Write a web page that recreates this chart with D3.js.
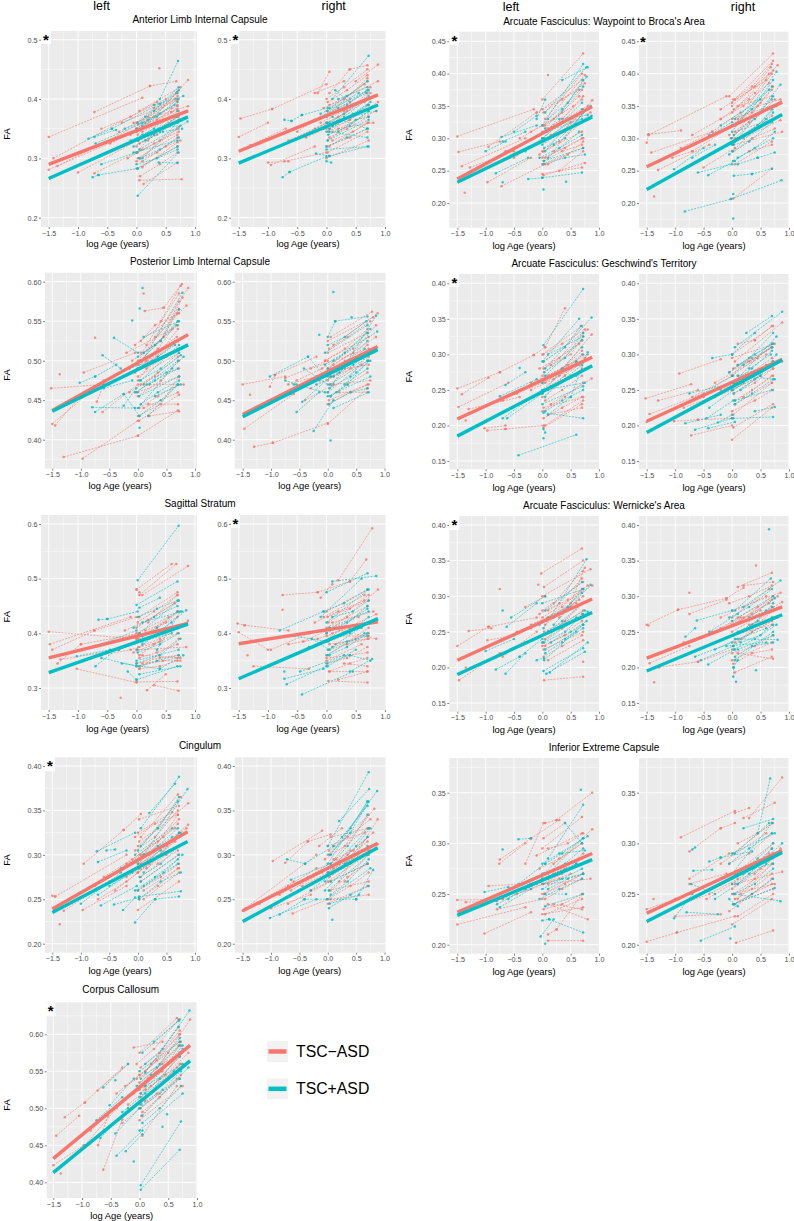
<!DOCTYPE html>
<html><head><meta charset="utf-8">
<script src="https://cdn.jsdelivr.net/npm/d3@7"></script>
<style>html,body{margin:0;padding:0;background:#fff}svg{display:block}text{font-family:"Liberation Sans",Arial,sans-serif}</style>
</head><body><div id="c"></div>
<script>
const RED="#F8766D",TEAL="#00BFC4";
const legendLabels=["TSC−ASD","TSC+ASD"];
const xTicks=[-1.5,-1,-0.5,0,0.5,1];
const ticksAlic=[.2,.3,.4,.5], ticksPlic=[.4,.45,.5,.55,.6], ticksSs=[.3,.4,.5,.6], ticksCing=[.2,.25,.3,.35,.4];
const ticksCc=[.4,.45,.5,.55,.6], ticksBroca=[.2,.25,.3,.35,.4,.45], ticksGesch=[.15,.2,.25,.3,.35,.4], ticksWern=[.15,.2,.25,.3,.35,.4], ticksIec=[.2,.25,.3,.35];
// Each record: x,y pairs of one subject's visits (log age, FA).
const alicLNeg=[[-1.5,.336,.1,.402],[-.72,.378,.23,.422],[.23,.422,.68,.43],[-1.42,.3,.35,.395],[-1.5,.281,0,.345],[-1.35,.287,.6,.385],[-1,.276,.02,.33],[-.72,.275,.1,.315],[.05,.263,.77,.265],[0,.31,.7,.388],[.02,.34,.88,.432],[.03,.357,.7,.412],[.05,.3,.7,.35],[.1,.285,.7,.327],[0,.32,.7,.37],[.15,.36,.7,.405],[.2,.33,.72,.38],[0,.283,.7,.32],[.12,.257,.7,.293],[-.05,.36,.88,.388],[.05,.38,.75,.42],[-.25,.36,.7,.397],[.1,.345,.87,.38],[.02,.3,.7,.34],[.39,.452],
[-.02,.345,.35,.365,.7,.39],[.03,.33,.4,.35,.72,.37],[0,.35,.3,.37,.68,.41],[.05,.325,.35,.34,.7,.362],[-.1,.34,.3,.36,.7,.383],[.02,.31,.4,.33,.72,.352],[0,.295,.35,.31,.7,.335],[.06,.27,.4,.29,.7,.31],[-.3,.345,.2,.37,.66,.4],[-.15,.3,.3,.325,.72,.345],[-.45,.325,0,.35,.6,.378],[-.6,.35,-.1,.37,.5,.4],[0,.36,.3,.385,.72,.4],[.1,.295,.5,.32,.75,.33]];
const alicLPos=[[-.82,.333,-.42,.35],[-.72,.336,-.35,.348],[-.7,.325,.1,.36],[-.75,.268,-.65,.272],[-.65,.272,.02,.283],[-.6,.29,0,.31],[.02,.237,.72,.31],[.4,.4,.71,.464],[-.42,.35,.4,.392],[0,.35,.7,.41],[.15,.37,.72,.415],[.02,.283,.7,.32],[.38,.293,.7,.292],[.1,.3,.7,.36],[.2,.34,.78,.375],[0,.33,.7,.38],[.05,.315,.87,.362],[.3,.39,.8,.405],[.1,.34,.7,.36],[-.05,.31,.7,.33],
[0,.345,.35,.37,.7,.4],[.03,.33,.4,.345,.72,.365],[-.05,.32,.3,.34,.68,.37],[.05,.3,.4,.315,.72,.335],[.1,.355,.4,.375,.7,.395],[0,.29,.35,.3,.7,.315],[-.2,.35,.2,.365,.65,.39],[.02,.36,.3,.38,.72,.42],[.15,.33,.45,.345,.78,.35],[-.1,.33,.3,.35,.75,.355]];
const alicRNeg=[[-1.5,.336,-1,.36],[-1.47,.367,-.93,.383],[-.93,.383,0,.425],[-.15,.41,.05,.446],[-1.3,.322,-.7,.35],[-1,.293,-.65,.295],[-.95,.289,-.2,.32],[-.72,.295,0,.31],[.05,.41,.4,.45],[.4,.45,.7,.457],[.5,.43,.88,.458],[0,.37,.7,.435],[.05,.39,.88,.43],[0,.35,.75,.41],[.02,.33,.72,.38],[.05,.32,.7,.36],[.02,.31,.7,.345],[.1,.345,.85,.38],[0,.3,.72,.33],[.2,.35,.8,.36],[-.65,.33,.05,.36],[-.2,.41,.3,.43],[-.4,.355,.5,.39],[0,.38,.65,.425],
[-.05,.385,.3,.4,.7,.43],[0,.355,.35,.38,.7,.41],[.03,.345,.4,.365,.72,.39],[.02,.395,.35,.415,.7,.44],[-.1,.36,.3,.38,.68,.4],[.05,.335,.35,.35,.72,.37],[0,.32,.4,.335,.7,.35],[.05,.375,.4,.395,.75,.42],[-.2,.35,.2,.37,.65,.395],[-.5,.345,-.1,.37,.4,.4],[.1,.33,.45,.345,.72,.36],[0,.4,.3,.42,.7,.45],[-.35,.335,.1,.355,.6,.38],[.05,.35,.4,.365,.88,.395]];
const alicRPos=[[-.75,.268,-.63,.277],[-.63,.277,0,.303],[0,.295,.08,.293],[0,.315,.72,.32],[-.18,.308,.05,.304],[.05,.304,.7,.32],[-.72,.365,-.6,.363],[-.6,.363,-.42,.373],[-.42,.373,.02,.385],[-.6,.33,0,.36],[.1,.4,.72,.473],[.15,.415,.45,.39],[.02,.38,.72,.415],[.05,.35,.72,.39],[0,.36,.85,.38],[.02,.33,.72,.365],[.05,.345,.7,.335],[.1,.37,.7,.35],[-.1,.375,.55,.41],[.2,.4,.7,.42],[0,.345,.7,.39],
[0,.37,.35,.39,.7,.415],[.02,.36,.3,.375,.72,.405],[-.05,.35,.3,.37,.7,.4],[.05,.385,.35,.405,.7,.43],[.03,.34,.4,.355,.72,.38],[0,.32,.35,.335,.7,.35],[-.2,.365,.2,.385,.68,.41],[.1,.355,.45,.375,.75,.395],[.2,.345,.5,.365,.72,.37]];
const plicLNeg=[[-1.52,.465,-.6,.47],[-1.5,.42,-.6,.475],[-1.45,.418,-1,.456],[-1.3,.378,0,.405],[-.97,.376,0,.424],[0,.405,.7,.437],[.02,.424,.72,.457],[-1.37,.483],[-.75,.529],[-.95,.485,-.05,.51],[.12,.563,.45,.567],[.1,.585],[.45,.567,.77,.597],[.4,.55,.75,.595],[.3,.53,.88,.592],[.15,.52,.72,.585],[0,.5,.72,.565],[.05,.51,.85,.57],[-.05,.52,.7,.56],[0,.475,.7,.54],[-.72,.448,-.6,.47],[-.62,.435,0,.47],[.1,.44,.7,.46],[.18,.445,.7,.445],[.15,.47,.8,.47],[0,.46,.72,.48],[.02,.49,.7,.525],[0,.48,.72,.51],[-.2,.51,.6,.54],[.2,.43,.72,.436],
[0,.495,.35,.515,.7,.55],[.03,.5,.4,.525,.72,.575],[-.05,.485,.3,.51,.68,.53],[.05,.47,.35,.485,.7,.505],[0,.455,.4,.475,.72,.5],[-.1,.5,.3,.52,.7,.545],[.02,.44,.35,.455,.7,.47],[.1,.51,.45,.53,.78,.58],[-.3,.485,.15,.5,.65,.525],[-.5,.47,0,.49,.55,.52],[.05,.525,.3,.545,.72,.56],[0,.43,.4,.445,.72,.48],[.15,.49,.5,.505,.7,.515],[-.15,.46,.3,.48,.72,.49]];
const plicLPos=[[-.62,.507,-.3,.49],[.08,.592],[-.1,.551],[.03,.566],[-.42,.529,0,.51],[-1.02,.472,-.75,.48],[-.75,.48,-.38,.495],[-.8,.441,-.05,.44],[-.75,.435,-.25,.458],[-.25,.458,.03,.43],[.03,.415],[.18,.43,.7,.47],[-.25,.443,-.03,.465],[-.02,.46,.7,.5],[0,.49,.78,.586],[.05,.5,.7,.55],[.1,.47,.75,.507],[.02,.455,.72,.48],[.1,.53,.72,.55],[0,.44,.6,.49],[.3,.455,.75,.47],[.05,.475,.72,.52],[-.6,.465,-.1,.475],
[0,.49,.35,.505,.7,.525],[.03,.475,.4,.49,.72,.51],[-.05,.46,.3,.475,.7,.49],[.05,.445,.35,.46,.72,.475],[.1,.51,.4,.525,.72,.565],[0,.505,.3,.52,.68,.545],[-.15,.49,.25,.5,.65,.52],[.2,.47,.5,.485,.8,.505],[.02,.43,.4,.45,.7,.47]];
const plicRNeg=[[-1.5,.47,-.75,.48],[-1.47,.414,-.6,.458],[-1.37,.457],[-1.3,.391,-.97,.396],[-.97,.396,0,.421],[-1.02,.467,-.93,.482],[-.93,.482,-.2,.505],[-.75,.478,0,.5],[0,.42,.7,.465],[.02,.45,.7,.47],[-.65,.458,.05,.49],[-.3,.49,.72,.515],[0,.525,.8,.555],[.05,.53,.78,.562],[.1,.52,.88,.56],[0,.51,.7,.535],[-.05,.5,.72,.53],[.05,.48,.72,.51],[0,.46,.7,.5],[.1,.47,.75,.475],[0,.49,.85,.53],[.2,.46,.7,.46],[-.4,.45,.1,.47],
[0,.485,.35,.5,.7,.52],[.03,.47,.4,.49,.72,.505],[-.05,.5,.3,.515,.7,.54],[.05,.455,.35,.47,.7,.485],[0,.445,.4,.46,.72,.47],[-.15,.475,.25,.49,.68,.51],[.02,.515,.35,.53,.75,.55],[-.3,.465,.1,.48,.6,.495],[-.55,.475,-.1,.49,.45,.515],[.1,.495,.45,.51,.85,.545],[0,.475,.3,.49,.72,.495],[-.7,.47,-.2,.48,.3,.5]];
const plicRPos=[[-1.02,.48,-.35,.505],[-.35,.505,-.05,.48],[-.25,.411,.1,.45],[.05,.399],[.1,.587],[.42,.555],[-.15,.533],[0,.53,.13,.55],[.13,.55,.7,.556],[-.55,.435,-.15,.46],[-.45,.448,.05,.48],[-.75,.475,-.55,.47],[-.6,.47,-.05,.46],[0,.455,.75,.48],[0,.46,.85,.557],[0,.49,.75,.54],[.05,.47,.7,.5],[.1,.44,.72,.46],[-.05,.51,.7,.545],[.1,.5,.87,.537],[-.42,.49,0,.47],[.3,.47,.7,.49],
[0,.48,.35,.5,.7,.525],[.03,.465,.4,.48,.72,.51],[-.05,.495,.3,.51,.7,.535],[.05,.455,.35,.47,.72,.5],[.02,.445,.4,.46,.7,.465],[-.2,.47,.2,.485,.65,.515],[.1,.48,.45,.495,.78,.51],[0,.52,.3,.53,.68,.55],[.15,.46,.5,.485,.75,.5]];
const ssLNeg=[[-1.5,.403,0,.39],[-1.48,.38,-.1,.43],[-1.44,.37,-.72,.405],[-.72,.405,0,.43],[-1.35,.345,-.95,.38],[-1.02,.335,0,.31],[-.95,.38,.05,.4],[-1.3,.352,-.3,.37],[0,.311,.7,.312],[.18,.296,.5,.325],[.3,.305,.72,.295],[-.27,.282],[0,.48,.05,.475],[0,.48,.6,.527],[.05,.47,.68,.527],[.1,.47,.88,.523],[.05,.43,.7,.475],[0,.41,.72,.46],[.03,.39,.7,.44],[.02,.37,.85,.375],[.1,.36,.75,.355],[0,.34,.7,.355],[.05,.36,.88,.423],[.2,.42,.7,.47],[.05,.335,.72,.39],
[0,.39,.35,.41,.7,.43],[.03,.375,.4,.39,.72,.415],[-.05,.365,.3,.38,.7,.4],[.05,.355,.35,.365,.7,.38],[0,.345,.4,.355,.72,.36],[-.2,.405,.2,.425,.65,.455],[.02,.42,.3,.44,.7,.47],[.1,.345,.45,.35,.75,.35],[-.4,.385,0,.4,.55,.43],[.05,.335,.4,.34,.7,.35],[.15,.405,.5,.42,.72,.44],[-.6,.36,-.1,.37,.4,.385]];
const ssLPos=[[.02,.497,.72,.597],[0,.452,.7,.495],[.05,.447,.4,.465],[-.65,.425,-.5,.426],[-.5,.426,.02,.44],[-.75,.375,0,.405],[-.7,.34,-.35,.37],[-1.02,.358,-.45,.37],[-.6,.355,0,.34],[-.15,.33,0,.315],[0,.315,.7,.34],[.05,.325,.75,.34],[-.25,.345,.4,.335],[.4,.335,.8,.36],[0,.37,.6,.42],[.05,.4,.72,.46],[.1,.38,.85,.442],[0,.35,.72,.37],[.35,.37,.75,.44],[.1,.42,.78,.44],
[0,.385,.35,.41,.7,.44],[.02,.365,.4,.38,.72,.4],[-.05,.41,.3,.43,.7,.45],[.05,.34,.35,.35,.72,.36],[.03,.43,.35,.445,.7,.46],[.1,.395,.45,.405,.72,.415],[0,.345,.4,.36,.75,.39],[-.3,.37,.1,.385,.6,.4]];
const ssRNeg=[[-1.52,.418,-1.4,.415],[-1.4,.415,-.65,.405],[-1.5,.402,-1,.37],[-1.35,.36],[-1.25,.34,-.3,.335],[-.75,.47,-.15,.475],[-.15,.475,.4,.495],[.4,.495,.68,.535],[-.75,.443],[.2,.497,.78,.592],[-.1,.465,.1,.49],[0,.44,.7,.48],[.02,.43,.72,.46],[0,.4,.88,.48],[.05,.38,.7,.39],[0,.35,.6,.38],[.05,.33,.7,.33],[.03,.313,.7,.31],[.2,.315,.7,.33],[-.95,.37,-.3,.4],[.02,.36,.72,.41],[.1,.42,.8,.44],[.05,.41,.85,.39],[.3,.345,.7,.34],[-.05,.43,.65,.47],[0,.395,.72,.395],
[0,.41,.35,.43,.7,.45],[.03,.42,.4,.445,.72,.47],[-.05,.385,.3,.4,.7,.42],[.05,.37,.35,.38,.72,.39],[0,.355,.4,.36,.7,.365],[-.2,.42,.2,.44,.65,.46],[.02,.345,.35,.355,.7,.375],[.1,.4,.45,.415,.85,.435],[-.4,.385,0,.405,.55,.43],[.05,.33,.4,.345,.7,.355],[.15,.38,.5,.39,.72,.4],[-.65,.38,-.15,.39,.4,.41]];
const ssRPos=[[-.42,.288,.45,.33],[-.72,.317,-.05,.335],[-.68,.307,0,.34],[-.72,.33],[-.45,.33,.3,.36],[-.8,.405,-.05,.44],[0,.475,.7,.51],[.1,.495,.85,.505],[0,.42,.72,.48],[-.25,.39,.05,.37],[0,.36,.65,.4],[.05,.39,.7,.45],[-.1,.43,.6,.5],[-.55,.395,0,.385],[.4,.33,.78,.353],[.05,.41,.72,.44],[.02,.34,.5,.37],[.1,.375,.72,.42],
[0,.4,.35,.42,.7,.445],[.03,.385,.4,.4,.72,.43],[-.05,.44,.3,.455,.7,.48],[.05,.36,.35,.375,.7,.4],[0,.345,.4,.36,.75,.35],[.1,.43,.45,.44,.72,.46],[-.3,.375,.1,.39,.6,.41],[.02,.37,.35,.385,.7,.395]];
const cingLNeg=[[-1.5,.254,-1.45,.253],[-1.45,.253,-.2,.3],[-1.3,.237,-.5,.27],[-1.37,.222],[-.95,.29,-.25,.328],[-.25,.328,.05,.346],[-.97,.238,-.2,.265],[-.75,.265,.05,.3],[.05,.32,.7,.368],[0,.31,.88,.358],[.03,.3,.72,.34],[0,.28,.72,.32],[.05,.27,.7,.3],[-.2,.29,.65,.33],[.02,.34,.72,.355],[0,.238,.72,.27],[.1,.26,.72,.285],[.05,.29,.88,.334],[-.3,.275,.5,.31],[.2,.3,.7,.345],[0,.325,.6,.348],[.1,.25,.72,.28],[0,.29,.72,.31],
[0,.295,.35,.315,.7,.335],[.03,.285,.4,.3,.72,.325],[-.05,.305,.3,.32,.7,.35],[.05,.275,.35,.29,.7,.305],[0,.26,.4,.275,.72,.29],[-.2,.275,.2,.29,.65,.315],[.02,.315,.35,.33,.75,.365],[-.4,.26,0,.28,.55,.305],[-.6,.275,-.1,.295,.45,.32],[.1,.3,.45,.31,.85,.33],[.02,.25,.35,.265,.7,.285],[-.7,.25,-.2,.27,.3,.295],[.15,.285,.5,.3,.72,.31],[-.05,.32,.3,.335,.7,.345]];
const cingLPos=[[-.72,.304,-.05,.325],[-.7,.292,-.2,.305],[-.55,.305,-.4,.306],[-.65,.243,-.02,.265],[-1,.245,-.3,.28],[-.42,.244,.02,.252],[-.26,.238,-.05,.252],[-.05,.224,.3,.25],[.3,.25,.72,.253],[.02,.253,.75,.259],[.05,.33,.72,.388],[.2,.347,.65,.38],[.1,.3,.87,.374],[0,.305,.7,.36],[.02,.285,.75,.325],[.05,.27,.72,.3],[0,.26,.7,.29],[.1,.28,.72,.325],[-.7,.255,0,.285],[-.05,.3,.6,.33],
[0,.29,.35,.31,.7,.33],[.03,.275,.4,.29,.72,.31],[-.05,.26,.3,.275,.7,.295],[.05,.31,.35,.33,.72,.365],[.02,.25,.4,.27,.75,.28],[-.5,.265,-.1,.28,.4,.305],[.1,.265,.45,.28,.78,.3],[-.3,.285,.1,.3,.6,.32]];
const cingRNeg=[[-1.5,.237,-.6,.27],[-1.45,.24,-.2,.3],[-.97,.293,-.1,.327],[-.75,.291,-.35,.315],[-.35,.315,.05,.323],[-.62,.234,0,.25],[0,.245,.7,.265],[.02,.26,.72,.27],[.05,.29,.82,.352],[0,.3,.72,.345],[.05,.32,.72,.33],[0,.27,.7,.3],[-.3,.26,.7,.29],[.2,.27,.88,.34],[-.7,.245,.05,.27],[.05,.25,.72,.255],[0,.31,.65,.325],[.1,.285,.75,.305],[-.15,.31,.25,.33],[.02,.28,.7,.315],[-1,.24,-.3,.255],[.3,.27,.88,.312],
[0,.285,.35,.3,.7,.32],[.03,.275,.4,.29,.72,.305],[-.05,.295,.3,.31,.7,.33],[.05,.26,.35,.275,.7,.29],[0,.25,.4,.265,.72,.28],[-.2,.27,.2,.285,.65,.305],[.02,.305,.35,.32,.75,.34],[-.45,.265,0,.28,.5,.3],[-.65,.26,-.1,.28,.4,.305],[.1,.295,.45,.305,.8,.325],[-.85,.255,-.35,.275,.15,.295],[-1.2,.245,-.7,.265,-.2,.285]];
const cingRPos=[[.08,.227],[-1.02,.229,-.2,.25],[-.85,.233,-.4,.25],[-.42,.25,.5,.25],[-.65,.272,.05,.29],[-.72,.295,-.4,.29],[-.4,.29,.1,.31],[0,.31,.72,.393],[.2,.338,.73,.374],[.05,.3,.87,.372],[0,.29,.7,.36],[-.02,.25,.75,.285],[.02,.26,.72,.3],[0,.28,.72,.33],[.03,.245,.55,.255],[.5,.25,.8,.283],[.05,.27,.7,.29],[-.05,.26,.7,.31],[.25,.32,.7,.355],
[0,.285,.35,.31,.7,.345],[.03,.3,.4,.325,.72,.36],[-.05,.27,.3,.29,.7,.32],[.05,.255,.35,.27,.72,.295],[.1,.31,.4,.33,.7,.36],[-.3,.26,.1,.28,.6,.305],[.2,.29,.5,.31,.75,.33],[.02,.24,.4,.255,.72,.265]];
const ccNeg=[[-1.5,.423,-.97,.45],[-1.45,.463,-1.05,.49],[-1.37,.412],[-1.3,.488,-.95,.508],[-.95,.508,-.3,.555],[-.73,.524,-.2,.56],[-.72,.45,-.55,.49],[-.63,.417,-.3,.485],[-.1,.582,.4,.59],[0,.575,.65,.622],[.1,.55,.7,.605],[0,.53,.68,.585],[.02,.52,.88,.62],[0,.505,.7,.56],[.03,.49,.65,.54],[-.3,.48,.3,.52],[.05,.463,.65,.53],[0,.484,.75,.53],[.1,.51,.7,.575],[-.25,.53,.72,.575],[0,.545,.7,.59],[-.95,.45,-.4,.5],[-.45,.5,.1,.53],[.2,.56,.7,.6],[.03,.515,.7,.57],
[0,.525,.35,.55,.7,.575],[.03,.51,.4,.535,.72,.56],[-.05,.54,.3,.565,.7,.6],[.05,.495,.35,.515,.7,.54],[0,.535,.4,.56,.72,.585],[-.2,.505,.2,.53,.65,.555],[.02,.555,.35,.575,.68,.61],[-.4,.52,0,.545,.5,.575],[-.6,.49,-.1,.52,.4,.55],[.1,.525,.45,.545,.85,.575],[.02,.5,.35,.52,.72,.545],[-.85,.47,-.35,.505,.15,.54],[.15,.54,.5,.56,.72,.59],[-.05,.56,.25,.58,.68,.62]];
const ccPos=[[.02,.39,.7,.444],[.02,.396,.72,.482],[-.1,.428],[.4,.475],[.48,.492],[-.42,.466,0,.5],[-.4,.436,.05,.47],[-.24,.442,.05,.465],[-.68,.46,-.2,.5],[-.75,.484,-.3,.515],[-.63,.528,-.2,.56],[-.52,.504,-.1,.54],[-.42,.538],[.05,.575,.68,.618],[.1,.548,.87,.632],[0,.47,.75,.52],[.02,.52,.75,.58],[0,.5,.7,.54],[.05,.49,.85,.555],[.1,.53,.75,.56],[0,.55,.7,.59],[.25,.59,.7,.62],
[0,.515,.35,.54,.7,.57],[.03,.505,.4,.525,.72,.55],[-.05,.53,.3,.555,.7,.585],[.05,.48,.35,.5,.72,.53],[.1,.56,.4,.58,.68,.61],[-.3,.495,.1,.52,.6,.55],[.2,.545,.5,.56,.75,.585],[.02,.54,.35,.56,.7,.595]];
const brocaLNeg=[[-1.5,.303,-.15,.345],[-1.48,.279,-.75,.295],[-1.42,.257,-.3,.3],[-1.37,.216],[-1.28,.255,-.5,.28],[-.97,.232,-.2,.27],[-.72,.226,.05,.26],[.1,.398],[-.95,.287,-.1,.34],[0,.245,.7,.255],[.02,.243,.75,.262],[0,.36,.72,.431],[.05,.33,.7,.4],[.02,.32,.75,.398],[0,.28,.7,.34],[.03,.3,.72,.365],[.05,.27,.7,.3],[.2,.28,.88,.359],[-.1,.34,.65,.375],[0,.345,.7,.39],[.1,.315,.8,.35],[.02,.28,.7,.31],[.3,.25,.72,.28],[-.5,.27,0,.3],[0,.26,.72,.285],
[0,.31,.35,.33,.7,.36],[.03,.295,.4,.31,.72,.345],[-.05,.275,.3,.295,.7,.325],[.05,.32,.35,.34,.7,.375],[0,.27,.4,.285,.72,.3],[-.2,.31,.2,.33,.65,.365],[.02,.34,.35,.36,.75,.385],[-.4,.3,0,.32,.55,.35],[.1,.26,.45,.275,.72,.295],[.15,.305,.5,.325,.85,.34],[.02,.265,.35,.28,.7,.29],[-.65,.28,-.15,.3,.35,.33]];
const brocaLPos=[[-.72,.302,-.1,.32],[-.7,.295,-.3,.31],[-.5,.31,-.1,.335],[-1,.28,-.65,.295],[-.82,.246,-.25,.27],[-.7,.232],[-.25,.237,0,.239],[.02,.221],[.42,.233],[0,.239,.7,.247],[0,.32,.72,.415],[.05,.34,.78,.41],[-.1,.33,.05,.36],[.02,.3,.72,.39],[.05,.28,.7,.345],[.03,.265,.72,.285],[.3,.33,.8,.336],[.1,.27,.65,.31],[.05,.31,.87,.335],[0,.29,.7,.33],[.2,.29,.85,.35],[.35,.39,.8,.41],
[0,.3,.35,.325,.7,.355],[.03,.285,.4,.3,.72,.34],[-.05,.27,.3,.285,.7,.305],[.05,.315,.35,.345,.72,.38],[.02,.26,.4,.27,.75,.275],[-.3,.28,.1,.3,.6,.335],[.1,.33,.45,.355,.78,.395]];
const brocaRNeg=[[-1.5,.293,-1.47,.306],[-1.47,.306,-.9,.312],[-1.47,.305,-.1,.365],[-1.42,.278,-.35,.31],[-1.37,.21],[-1.3,.251,-.4,.29],[-1.05,.27,-.7,.28],[-.7,.28,.02,.32],[-.05,.365,.72,.431],[.05,.36,.72,.42],[0,.34,.8,.413],[.02,.32,.7,.4],[.05,.3,.75,.36],[0,.33,.85,.355],[.05,.26,.7,.295],[.02,.207,.7,.253],[0,.3,.72,.38],[.1,.35,.7,.365],[.03,.29,.88,.31],[.2,.3,.85,.328],[-.2,.345,.6,.39],[0,.35,.65,.4],[.3,.28,.7,.29],[.05,.31,.72,.33],[-.5,.255,.05,.285],
[0,.32,.35,.34,.7,.375],[.03,.345,.4,.37,.72,.405],[-.05,.305,.3,.325,.7,.35],[.05,.295,.35,.31,.7,.335],[0,.355,.4,.38,.68,.41],[-.2,.33,.2,.35,.65,.385],[.02,.28,.35,.3,.75,.315],[-.45,.3,0,.32,.5,.355],[-.7,.305,-.2,.33,.3,.36],[.1,.33,.45,.35,.85,.36],[-.9,.285,-.35,.31,.15,.34],[.02,.36,.35,.38,.7,.415]];
const brocaRPos=[[-.83,.187,-.02,.206],[-.02,.206,.87,.235],[.02,.176],[.02,.214],[.03,.242,.35,.245],[.35,.245,.7,.253],[.75,.278,.45,.27],[-.6,.247,0,.26],[-.42,.243,.05,.265],[-1.02,.252,-.5,.285],[-.4,.305,0,.325],[-.7,.27,-.3,.29],[0,.28,.72,.34],[.02,.29,.85,.383],[0,.31,.78,.403],[.05,.33,.7,.38],[.1,.27,.72,.3],[-.02,.3,.7,.36],[.1,.26,.45,.27],[.03,.32,.65,.375],[-.2,.32,.5,.36],
[0,.29,.35,.31,.7,.345],[.03,.305,.4,.33,.72,.365],[-.05,.275,.3,.295,.7,.325],[.05,.32,.35,.345,.72,.39],[.02,.265,.4,.285,.75,.31],[-.3,.28,.1,.3,.6,.33],[.1,.3,.45,.32,.78,.35]];
const geschLNeg=[[-1.5,.252,-.75,.275],[-.75,.275,-.15,.299],[-1.48,.226,-.6,.26],[-1.42,.244,-.95,.267],[-1.3,.223,-.4,.24],[-1.02,.196,-.65,.2],[-.97,.193,-.65,.195],[-.65,.195,.02,.2],[.02,.197,.7,.23],[.05,.2,.72,.235],[.05,.31,.4,.365],[0,.3,.7,.34],[.02,.29,.8,.335],[0,.27,.72,.33],[.05,.25,.87,.328],[0,.24,.7,.28],[.02,.225,.72,.24],[-.15,.299,.05,.31],[.1,.215,.7,.225],[.05,.26,.7,.3],[.15,.23,.87,.266],[-.2,.26,.6,.29],[.02,.28,.65,.315],[-1.35,.207],[.3,.27,.75,.295],
[0,.265,.35,.28,.7,.305],[.03,.25,.4,.27,.72,.29],[-.05,.28,.3,.295,.7,.32],[.05,.235,.35,.25,.7,.27],[0,.22,.4,.24,.72,.26],[-.2,.25,.2,.265,.65,.285],[.02,.3,.35,.315,.75,.335],[-.45,.245,0,.26,.5,.28],[-.7,.235,-.2,.255,.3,.275],[.1,.27,.45,.285,.8,.3],[.02,.21,.35,.225,.7,.24],[.15,.285,.5,.3,.72,.325]];
const geschLPos=[[.02,.313,.72,.392],[0,.29,.65,.35],[.05,.28,.87,.352],[-.42,.158,.6,.187],[.02,.182],[.02,.195,.05,.19],[.02,.218,.72,.21],[-.65,.257,-.3,.275],[-.4,.281],[-.75,.241,-.1,.265],[-.62,.21,0,.245],[-1,.205,0,.245],[-.7,.21,0,.25],[-.15,.24,.72,.3],[.03,.25,.75,.26],[0,.23,.72,.255],[.05,.27,.7,.32],[.1,.3,.72,.325],[.05,.24,.6,.29],[.1,.215,.5,.24],[.5,.24,.8,.303],
[0,.26,.35,.28,.7,.31],[.03,.275,.4,.295,.72,.33],[-.05,.245,.3,.26,.7,.285],[.05,.22,.35,.235,.72,.25],[.02,.29,.4,.31,.68,.34],[-.3,.235,.1,.25,.6,.27],[.15,.255,.5,.27,.78,.28]];
const geschRNeg=[[-1.52,.238,-.72,.258],[-1.45,.216,-.5,.245],[-1.5,.205,-.5,.24],[-1.3,.235,-.6,.25],[-1.02,.206,-.6,.208],[-.93,.273,-.2,.293],[-.72,.186,0,.2],[-.6,.208,0,.21],[0,.18,.7,.225],[.02,.197,.72,.23],[.02,.215,.7,.26],[0,.3,.72,.34],[.05,.29,.88,.345],[.1,.315,.4,.32],[.4,.32,.7,.34],[0,.27,.7,.31],[.05,.26,.72,.29],[.02,.25,.72,.28],[.05,.23,.7,.26],[-.3,.26,.6,.3],[.2,.24,.72,.27],[0,.295,.75,.315],[.1,.27,.88,.29],[-.7,.24,.02,.27],
[0,.26,.35,.275,.7,.295],[.03,.245,.4,.26,.72,.28],[-.05,.275,.3,.29,.7,.31],[.05,.235,.35,.25,.7,.27],[0,.22,.4,.235,.72,.25],[-.2,.25,.2,.265,.65,.285],[-.45,.235,0,.25,.5,.27],[-.85,.225,-.35,.24,.15,.26],[.1,.285,.45,.295,.72,.315],[.02,.28,.35,.295,.7,.31]];
const geschRPos=[[0,.3,.4,.33],[.25,.33,.7,.354],[.05,.31,.88,.36],[0,.27,.72,.33],[.03,.26,.78,.325],[-.82,.203,-.2,.215],[-.65,.194,0,.21],[-.42,.196,.05,.205],[-.25,.204,0,.215],[-.45,.21,.02,.235],[-.75,.245,.02,.26],[-.6,.24,0,.27],[-.4,.225,.2,.26],[.02,.21,.72,.212],[.4,.22,.75,.226],[.05,.235,.7,.25],[0,.25,.72,.285],[.1,.27,.75,.265],[.2,.285,.7,.31],[-.35,.295,0,.3],[.3,.28,.68,.3],
[0,.26,.35,.28,.7,.305],[.03,.245,.4,.265,.72,.29],[-.05,.275,.3,.295,.7,.315],[.05,.23,.35,.245,.72,.265],[.1,.285,.4,.3,.72,.315],[-.3,.24,.1,.26,.6,.285],[.15,.25,.5,.27,.78,.3]];
const wernLNeg=[[-1.5,.23,-.95,.257],[-.95,.257,-.1,.27],[-1.3,.251,-.9,.255],[-1.47,.182,-.75,.22],[-1.35,.2],[-.75,.31],[-.97,.238,-.5,.245],[-.3,.285,.05,.3],[-.07,.316],[-.02,.332,.7,.367],[.03,.313,.72,.35],[.03,.182,.72,.187],[0,.3,.85,.338],[0,.28,.72,.32],[.05,.26,.72,.3],[0,.235,.7,.29],[.02,.225,.72,.25],[.1,.21,.72,.238],[0,.27,.88,.315],[.2,.29,.75,.34],[.05,.23,.7,.265],[.15,.25,.72,.28],[.72,.208],[-.7,.215,-.1,.25],[.3,.27,.7,.31],[-.2,.26,.6,.29],
[0,.265,.35,.285,.7,.31],[.03,.25,.4,.265,.72,.29],[-.05,.275,.3,.29,.7,.325],[.05,.24,.35,.255,.7,.275],[0,.23,.4,.245,.72,.26],[-.2,.255,.2,.27,.65,.295],[-.45,.25,0,.265,.5,.285],[.1,.28,.45,.295,.8,.315],[.02,.215,.35,.23,.7,.245],[.15,.27,.5,.29,.72,.335]];
const wernLPos=[[-.7,.28],[-.63,.257,-.1,.29],[-.55,.27,.05,.3],[-1,.223,-.5,.24],[-.82,.197,-.4,.215],[-.65,.191,-.3,.22],[-.4,.215,0,.24],[.02,.195,.72,.227],[.07,.191,.75,.222],[.13,.193,.8,.235],[-.1,.21,.03,.213],[.03,.21,.72,.26],[0,.235,.8,.278],[.02,.255,.78,.352],[.05,.28,.7,.32],[.1,.25,.75,.28],[0,.29,.72,.31],[.2,.26,.85,.316],[.4,.24,.72,.26],[.05,.225,.6,.25],
[0,.245,.35,.265,.7,.29],[.03,.235,.4,.25,.72,.275],[-.05,.26,.3,.275,.7,.305],[.05,.22,.35,.235,.72,.255],[.1,.27,.45,.285,.72,.31],[-.3,.235,.1,.25,.6,.27],[.15,.235,.5,.25,.78,.265]];
const wernRNeg=[[-1.5,.26,-.95,.281],[-.95,.281,-.1,.297],[-1.47,.259],[-1.45,.206,-.75,.23],[-1.37,.179],[-1.28,.2,-.6,.208],[-.75,.305],[-.75,.275,-.1,.295],[.42,.343],[-.1,.297,.2,.312],[.1,.313,.7,.333],[.2,.315,.72,.32],[0,.28,.85,.305],[.05,.26,.72,.3],[0,.25,.88,.292],[.02,.23,.72,.28],[0,.21,.7,.235],[.05,.193,.7,.215],[.1,.22,.72,.212],[.15,.24,.8,.27],[-.2,.27,.6,.3],[0,.27,.65,.31],[-.6,.208,0,.225],[.3,.26,.72,.27],[.02,.245,.7,.26],
[0,.26,.35,.275,.7,.295],[.03,.245,.4,.26,.72,.285],[-.05,.29,.3,.3,.7,.315],[.05,.235,.35,.25,.7,.265],[0,.22,.4,.23,.72,.245],[-.2,.255,.2,.27,.65,.29],[-.45,.245,0,.26,.5,.28],[-.85,.235,-.35,.25,.15,.27],[.1,.27,.45,.285,.8,.3],[.02,.205,.35,.22,.7,.225]];
const wernRPos=[[.65,.394],[.02,.187,.03,.2],[.07,.18],[.42,.196],[.02,.2,.1,.21],[.05,.21,.72,.25],[-.82,.243,-.65,.255],[-.62,.266,0,.28],[-.65,.215,0,.235],[-.55,.21,.02,.23],[-.42,.204,.05,.225],[-.1,.23,.6,.235],[.05,.28,.68,.325],[.2,.285,.85,.322],[0,.265,.72,.3],[.02,.23,.7,.27],[.05,.24,.8,.239],[.1,.225,.72,.245],[.3,.27,.75,.297],[.05,.26,.6,.28],[-.4,.25,.1,.275],
[0,.245,.35,.26,.7,.285],[.03,.225,.4,.24,.72,.26],[-.05,.27,.3,.285,.7,.31],[.05,.215,.35,.23,.72,.235],[.1,.25,.45,.265,.72,.29],[-.3,.225,.1,.24,.6,.255],[.15,.235,.5,.245,.78,.26]];
const iecLNeg=[[-1.5,.244,-.7,.245],[-1.5,.22,-.3,.237],[-1.35,.242,-.8,.243],[-1.02,.211,-.2,.232],[-.95,.258,-.35,.26],[-.75,.284,-.2,.305],[-.76,.28,-.3,.3],[-.2,.305,.3,.323],[-.3,.28,.02,.32],[.05,.32,.25,.323],[.25,.323,.88,.35],[0,.295,.7,.326],[.02,.305,.4,.32],[.1,.21,.25,.215],[.25,.215,.7,.25],[.1,.204,.72,.204],[0,.23,.72,.237],[.1,.24,.8,.225],[.05,.23,.7,.245],[.2,.24,.7,.235],[-.1,.288,.7,.31],[.02,.27,.88,.314],[0,.25,.72,.27],[.1,.26,.85,.265],[-.8,.235,0,.245],[.2,.28,.7,.3],
[0,.26,.35,.27,.7,.285],[.03,.25,.4,.26,.72,.27],[-.05,.275,.3,.285,.7,.3],[.05,.245,.35,.255,.7,.265],[0,.265,.4,.275,.72,.29],[-.2,.26,.2,.27,.65,.285],[-.45,.25,0,.26,.5,.27],[.1,.295,.45,.3,.72,.31],[.02,.235,.35,.24,.7,.25],[-.7,.245,-.2,.255,.3,.265]];
const iecLPos=[[-.42,.304,-.2,.305],[-.7,.294],[.68,.353],[.1,.285,.72,.338],[-1.02,.252,-.6,.257],[-.8,.24,-.1,.26],[-.75,.237,-.2,.255],[-.6,.245,0,.27],[-.42,.26,.05,.28],[.05,.201],[-.03,.208,.2,.225],[0,.224,.12,.225],[.12,.225,.72,.212],[.05,.238,.72,.25],[0,.28,.8,.307],[.02,.26,.72,.27],[.05,.25,.42,.25],[.3,.29,.75,.293],[.1,.27,.72,.305],[0,.265,.6,.28],[.4,.32,.7,.3],
[0,.255,.35,.265,.7,.275],[.03,.27,.4,.28,.72,.295],[-.05,.245,.3,.255,.7,.265],[.05,.28,.35,.29,.72,.305],[.1,.255,.45,.265,.72,.27],[-.3,.255,.1,.265,.6,.28]];
const iecRNeg=[[-1.5,.235,-1,.245],[-1.5,.203,-.97,.212],[-.97,.212,.05,.228],[-1.38,.245],[-1,.228,-.2,.23],[-.9,.306,.05,.332],[-.75,.292,-.2,.315],[-.75,.265,-.05,.29],[-.2,.315,.05,.32],[.05,.33,.3,.335],[.2,.325,.75,.34],[.3,.325,.88,.365],[.07,.202,.72,.214],[0,.22,.7,.245],[.1,.228,.72,.25],[0,.25,.75,.26],[.05,.26,.88,.272],[.02,.29,.7,.32],[-.2,.28,.6,.31],[.05,.27,.72,.3],[-.05,.233,.7,.265],[.1,.245,.7,.28],[-.75,.26,-.1,.27],[.15,.25,.85,.295],[.02,.24,.72,.255],
[0,.265,.35,.275,.7,.295],[.03,.25,.4,.265,.72,.28],[-.05,.28,.3,.29,.7,.31],[.05,.245,.35,.255,.7,.27],[0,.255,.4,.27,.72,.285],[-.2,.26,.2,.27,.65,.29],[-.45,.245,0,.26,.5,.275],[-.9,.24,-.4,.25,.1,.265],[.1,.3,.45,.31,.72,.32],[.02,.24,.35,.25,.7,.26]];
const iecRPos=[[-.55,.204,.05,.218],[-.03,.206],[-1.02,.226,-.7,.25],[-.8,.232,-.25,.23],[-.68,.273,-.35,.274],[-.72,.26,-.3,.25],[-.7,.294,-.65,.296],[-.4,.282,-.2,.286],[-.2,.286,.35,.292],[.2,.315,.72,.324],[.45,.31,.67,.364],[0,.27,.7,.32],[.02,.24,.75,.256],[.05,.25,.85,.243],[0,.29,.75,.31],[-.05,.245,.1,.238],[.02,.27,.72,.28],[.1,.26,.88,.3],[.05,.29,.65,.32],[.3,.27,.72,.29],
[0,.26,.35,.275,.7,.295],[.03,.25,.4,.26,.72,.275],[-.05,.28,.3,.295,.7,.31],[.05,.24,.35,.25,.72,.265],[.1,.27,.45,.285,.72,.3],[-.3,.245,.1,.26,.6,.28]];
// Group trends: x1,y1,x2,y2
const trendAlicL=[[-1.5,.29,.88,.38],[-1.5,.266,.88,.37]], trendAlicR=[[-1.5,.312,.88,.407],[-1.5,.292,.88,.39]];
const trendPlicL=[[-1.5,.437,.88,.533],[-1.5,.436,.88,.52]], trendPlicR=[[-1.5,.432,.88,.518],[-1.5,.429,.88,.514]];
const trendSsL=[[-1.5,.355,.88,.418],[-1.5,.328,.88,.417]], trendSsR=[[-1.5,.381,.88,.421],[-1.5,.317,.88,.427]];
const trendCingL=[[-1.5,.239,.87,.326],[-1.5,.235,.87,.315]], trendCingR=[[-1.5,.237,.88,.313],[-1.5,.225,.88,.308]];
const trendCc=[[-1.5,.432,.88,.585],[-1.5,.413,.88,.564]];
const trendBrocaL=[[-1.5,.237,.88,.349],[-1.5,.232,.88,.333]], trendBrocaR=[[-1.5,.256,.88,.356],[-1.5,.221,.88,.337]];
const trendGeschL=[[-1.5,.209,.88,.296],[-1.5,.185,.88,.284]], trendGeschR=[[-1.5,.206,.88,.293],[-1.5,.19,.88,.292]];
const trendWernL=[[-1.5,.21,.88,.296],[-1.5,.19,.88,.277]], trendWernR=[[-1.5,.213,.88,.285],[-1.5,.195,.88,.274]];
const trendIecL=[[-1.5,.232,.88,.29],[-1.5,.229,.88,.284]], trendIecR=[[-1.5,.231,.88,.293],[-1.5,.223,.88,.291]];

// layout (pixels)
const colA={l:[41,197,48.7,195],r:[231,385.5,238.7,385]}, colB={l:[45,197,52.3,195],r:[234.7,385.5,242.7,384.5]}, colC={l:[449.3,599,457.3,599],r:[639,788.5,646.7,789]};
const panels=[
 {c:colA.l,t:31,b:227,ya:[.5,39.7,.2,217.7],ticks:ticksAlic,neg:alicLNeg,pos:alicLPos,trend:trendAlicL,star:[46,42],box:[10,13],lab:[117.7,244],fa:[7,134],d:1},
 {c:colA.r,t:31,b:227,ya:[.5,39.7,.2,217.7],ticks:ticksAlic,neg:alicRNeg,pos:alicRPos,trend:trendAlicR,star:[235.3,42],box:[8,13],lab:[308,244],d:1},
 {c:colB.l,t:272.7,b:468.7,ya:[.6,281.7,.4,439.7],ticks:ticksPlic,neg:plicLNeg,pos:plicLPos,trend:trendPlicL,lab:[120,486.3],fa:[7,375],d:2},
 {c:colB.r,t:272.7,b:468.7,ya:[.6,281.7,.4,439.7],ticks:ticksPlic,neg:plicRNeg,pos:plicRPos,trend:trendPlicR,lab:[309.7,486.3],d:2},
 {c:colA.l,t:515,b:710,ya:[.6,524,.3,688],ticks:ticksSs,neg:ssLNeg,pos:ssLPos,trend:trendSsL,lab:[117.7,729],fa:[7,616.7],d:1},
 {c:colA.r,t:515,b:710,ya:[.6,524,.3,688],ticks:ticksSs,neg:ssRNeg,pos:ssRPos,trend:trendSsR,star:[235.3,525.5],box:[9,13],lab:[308,729],d:1},
 {c:colB.l,t:757.3,b:952.7,ya:[.4,766,.2,943.7],ticks:ticksCing,neg:cingLNeg,pos:cingLPos,trend:trendCingL,star:[50,768],box:[10,14],lab:[120,970.7],fa:[7,860],d:2},
 {c:colB.r,t:757.3,b:952.7,ya:[.4,766,.2,943.7],ticks:ticksCing,neg:cingRNeg,pos:cingRPos,trend:trendCingR,lab:[309.7,970.7],d:2},
 {c:[46.7,196.5,53.3,197],t:1002.3,b:1198,ya:[.6,1034.3,.4,1182.3],ticks:ticksCc,neg:ccNeg,pos:ccPos,trend:trendCc,star:[50.7,1013],box:[8.5,14],lab:[121.7,1216],fa:[7,1105],d:2},
 {c:colC.l,t:31.7,b:227.7,ya:[.45,41.3,.2,203],ticks:ticksBroca,neg:brocaLNeg,pos:brocaLPos,trend:trendBrocaL,star:[454.3,43],box:[10,13],lab:[524,246],fa:[409,135],d:2},
 {c:colC.r,t:31.7,b:227.7,ya:[.45,41.3,.2,203],ticks:ticksBroca,neg:brocaRNeg,pos:brocaRPos,trend:trendBrocaR,star:[643,43.5],box:[8,13],lab:[714,246],d:2},
 {c:colC.l,t:274,b:469.3,ya:[.4,283.3,.15,461],ticks:ticksGesch,neg:geschLNeg,pos:geschLPos,trend:trendGeschL,star:[454.3,284.5],box:[10,13],lab:[524,488],fa:[409,376.7],d:2},
 {c:colC.r,t:274,b:469.3,ya:[.4,283.3,.15,461],ticks:ticksGesch,neg:geschRNeg,pos:geschRPos,trend:trendGeschR,lab:[714,488],d:2},
 {c:colC.l,t:516,b:711.7,ya:[.4,525,.15,703],ticks:ticksWern,neg:wernLNeg,pos:wernLPos,trend:trendWernL,star:[454.3,527],box:[10,14],lab:[524,730],fa:[409,619],d:2},
 {c:colC.r,t:516,b:711.7,ya:[.4,525,.15,703],ticks:ticksWern,neg:wernRNeg,pos:wernRPos,trend:trendWernR,lab:[714,730],d:2},
 {c:colC.l,t:758,b:953.7,ya:[.35,792.7,.2,944.7],ticks:ticksIec,neg:iecLNeg,pos:iecLPos,trend:trendIecL,lab:[524,972],fa:[409,860.7],d:2},
 {c:colC.r,t:758,b:953.7,ya:[.35,792.7,.2,944.7],ticks:ticksIec,neg:iecRNeg,pos:iecRPos,trend:trendIecR,lab:[714,972],d:2}
];
const titles=[["Anterior Limb Internal Capsule",200,20],["Posterior Limb Internal Capsule",200,262],["Sagittal Stratum",200,504],["Cingulum",200,746],["Corpus Callosum",120.7,990],["Arcuate Fasciculus: Waypoint to Broca's Area",604,21.3],["Arcuate Fasciculus: Geschwind's Territory",604,263.3],["Arcuate Fasciculus: Wernicke's Area",604,505.3],["Inferior Extreme Capsule",604,747.3]];
const sides=[["left",101.7,6],["right",333.7,6],["left",511,7],["right",743,7]];

const svg=d3.select("#c").append("svg").attr("width",794).attr("height",1221);
const pairs=r=>{const o=[];for(let i=0;i+1<r.length;i+=2)o.push([r[i],r[i+1]]);return o;};
panels.forEach(p=>{
  const [L,R,x15,x1]=p.c;
  const x=d3.scaleLinear().domain([-1.5,1]).range([x15,x1]);
  const y=d3.scaleLinear().domain([p.ya[0],p.ya[2]]).range([p.ya[1],p.ya[3]]);
  const g=svg.append("g");
  g.append("rect").attr("x",L).attr("y",p.t).attr("width",R-L).attr("height",p.b-p.t).attr("fill","#ebebeb");
  const ystep=p.ticks[1]-p.ticks[0];
  const yMinor=[];for(let i=-1;i<p.ticks.length;i++){const v=p.ticks[0]+ystep*(i+.5);if(y(v)>p.t&&y(v)<p.b)yMinor.push(v);}
  const xMinor=[-1.25,-.75,-.25,.25,.75];
  g.selectAll(".mi").data(yMinor).join("line").attr("class","mi").attr("x1",L).attr("x2",R).attr("y1",y).attr("y2",y).attr("stroke","#fff").attr("stroke-width",.45);
  g.selectAll(".mx").data(xMinor).join("line").attr("class","mx").attr("y1",p.t).attr("y2",p.b).attr("x1",x).attr("x2",x).attr("stroke","#fff").attr("stroke-width",.45);
  g.selectAll(".Mi").data(p.ticks).join("line").attr("class","Mi").attr("x1",L).attr("x2",R).attr("y1",y).attr("y2",y).attr("stroke","#fff").attr("stroke-width",.9);
  g.selectAll(".Mx").data(xTicks.filter(v=>x(v)<R-1)).join("line").attr("class","Mx").attr("y1",p.t).attr("y2",p.b).attr("x1",x).attr("x2",x).attr("stroke","#fff").attr("stroke-width",.9);
  const line=d3.line().x(d=>x(d[0])).y(d=>y(d[1]));
  [[p.neg,RED],[p.pos,TEAL]].forEach(([recs,col])=>{
    g.append("g").selectAll("path").data(recs.filter(r=>r.length>2)).join("path").attr("d",r=>line(pairs(r))).attr("fill","none").attr("stroke",col).attr("stroke-width",.75).attr("stroke-dasharray","2 1.2").attr("opacity",.8);
    g.append("g").selectAll("circle").data(recs.flatMap(pairs)).join("circle").attr("cx",d=>x(d[0])).attr("cy",d=>y(d[1])).attr("r",1.25).attr("fill",col).attr("opacity",.8);
  });
  p.trend.forEach((t,i)=>g.append("path").attr("d",line(pairs(t))).attr("stroke",i?TEAL:RED).attr("stroke-width",3.4).attr("fill","none"));
  const fmt=d3.format(p.d===1?".1f":".2f");
  const ax=g.append("g").attr("transform",`translate(${L},0)`).call(d3.axisLeft(y).tickValues(p.ticks).tickFormat(fmt).tickSize(2).tickPadding(1.5));
  const ax2=g.append("g").attr("transform",`translate(0,${p.b})`).call(d3.axisBottom(x).tickValues(xTicks).tickFormat(d3.format(".1f")).tickSize(2).tickPadding(1.5));
  [ax,ax2].forEach(a=>{a.select(".domain").remove();a.selectAll("text").attr("font-size",7.2).attr("fill","#4d4d4d").style("font-family",'"Liberation Sans",Arial,sans-serif');a.selectAll("line").attr("stroke","#333").attr("stroke-width",.6);});
  if(p.star){
    g.append("rect").attr("x",L).attr("y",p.t).attr("width",p.box[0]).attr("height",p.box[1]).attr("fill","#fff");
    g.append("text").attr("x",p.star[0]).attr("y",p.star[1]+3).attr("text-anchor","middle").attr("font-size",15).attr("font-weight","bold").attr("fill","#000").text("*");
  }
  g.append("text").attr("x",p.lab[0]).attr("y",p.lab[1]+3).attr("text-anchor","middle").attr("font-size",9.4).attr("fill","#000").text("log Age (years)");
  if(p.fa)g.append("text").attr("transform",`translate(${p.fa[0]+3},${p.fa[1]}) rotate(-90)`).attr("text-anchor","middle").attr("font-size",9.4).attr("fill","#000").text("FA");
});
titles.forEach(t=>svg.append("text").attr("x",t[1]).attr("y",t[2]+3.3).attr("text-anchor","middle").attr("font-size",10).attr("fill","#000").text(t[0]));
sides.forEach(t=>svg.append("text").attr("x",t[1]).attr("y",t[2]+4).attr("text-anchor","middle").attr("font-size",12.5).attr("fill","#000").text(t[0]));
const keyY=[1041,1078.3];
legendLabels.forEach((lab,i)=>{
  svg.append("rect").attr("x",267).attr("y",keyY[i]).attr("width",21).attr("height",21).attr("fill","#f2f2f2");
  svg.append("line").attr("x1",268.5).attr("x2",286.5).attr("y1",keyY[i]+10.5).attr("y2",keyY[i]+10.5).attr("stroke",i?TEAL:RED).attr("stroke-width",4.5);
  svg.append("text").attr("x",296).attr("y",keyY[i]+16).attr("font-size",15.8).attr("fill","#000").text(lab);
});
</script></body></html>
